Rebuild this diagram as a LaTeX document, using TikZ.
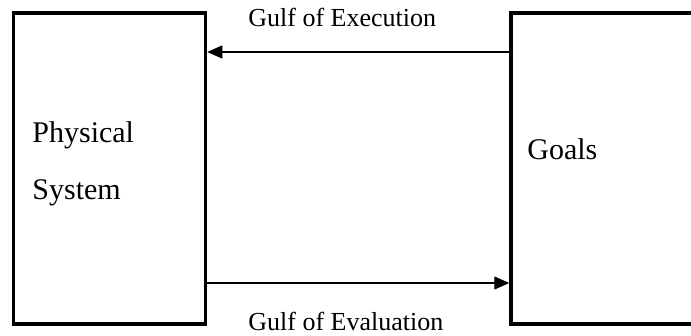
\documentclass[tikz,border=0pt]{standalone}
\usepackage{fontspec}
\setmainfont{Liberation Serif}
\usetikzlibrary{arrows.meta}
\begin{document}
\begin{tikzpicture}[x=0.5pt,y=-0.5pt,
  box/.style={draw=black, line width=1.75pt, rectangle, inner sep=0pt},
  arr/.style={draw=black, line width=0.6pt, -{Triangle[length=7.5pt,width=6.5pt]}},
  lbl/.style={inner sep=0pt, anchor=base west, font=\fontsize{13}{15}\selectfont},
  big/.style={inner sep=0pt, anchor=base west, font=\fontsize{15}{18}\selectfont}]
\useasboundingbox (0,0) rectangle (691,336);
\clip (0,0) rectangle (691,336);
\node[box, minimum width=96pt, minimum height=155.5pt] (phys) at (109.5,168.5) {};
\node[box, minimum width=179.5pt, minimum height=155.5pt] (goals) at (690.5,168.5) {};
\coordinate (ty) at (0,52);
\coordinate (by) at (0,283);
\draw[arr] (goals.west |- ty) -- (phys.east |- ty);
\draw[arr] (phys.east |- by) -- (goals.west |- by);
\node[lbl] (exec) at (248,27) {Gulf of Execution};
\node[lbl] (eval) at (248,330) {Gulf of Evaluation};
\node[big] (physa) at (32,143) {Physical};
\node[big] (physb) at (32,200) {System};
\node[big] (goalt) at (527,160) {Goals};
\end{tikzpicture}
\end{document}
